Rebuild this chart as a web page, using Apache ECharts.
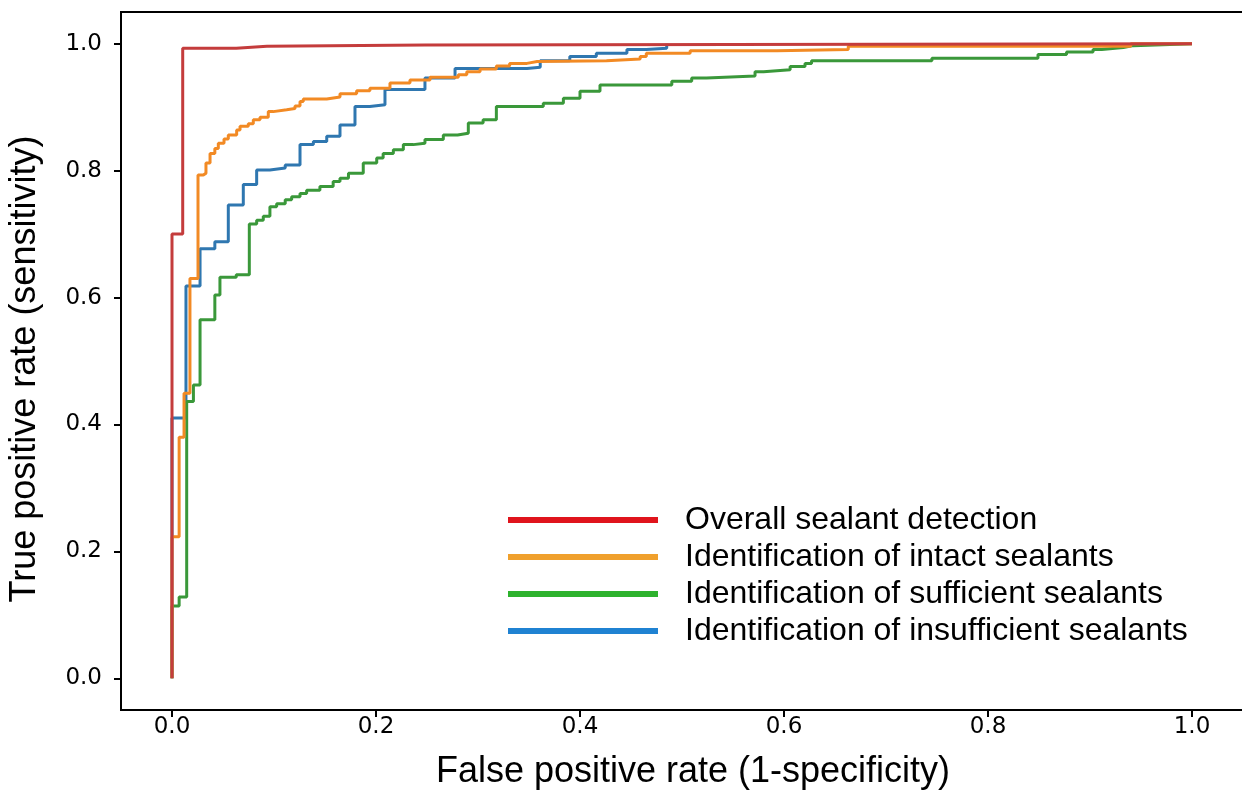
<!DOCTYPE html>
<html>
<head>
<meta charset="utf-8">
<script src="https://cdn.jsdelivr.net/npm/echarts@6/dist/echarts.min.js"></script>
<style>html,body{margin:0;padding:0;background:#fff;overflow:hidden}#c{width:1242px;height:801px}</style>
</head>
<body>
<div id="c"></div>
<script>
// ---- data (fpr, tpr) corner points, step changes at each x ----
const seriesNames = [
  'Overall sealant detection',
  'Identification of intact sealants',
  'Identification of sufficient sealants',
  'Identification of insufficient sealants'
];
const overallRoc = [[0,0],[0,0.70],[0.0105,0.993],[0.063,0.996],[0.093,0.998],[0.248,1.0],[1.0,1.0]];
const intactRoc = [[0,0],[0,0.223],[0.007,0.38],[0.0118,0.449],[0.0176,0.63],[0.0255,0.793],[0.0307,0.796],[0.0333,0.812],[0.0373,0.827],[0.042,0.835],[0.0454,0.843],[0.051,0.85],[0.0552,0.856],[0.0634,0.864],[0.0667,0.87],[0.0748,0.874],[0.0797,0.88],[0.0863,0.884],[0.0944,0.893],[0.0993,0.896],[0.1124,0.898],[0.1206,0.902],[0.1255,0.909],[0.1287,0.913],[0.1517,0.916],[0.1647,0.921],[0.181,0.926],[0.194,0.93],[0.2137,0.938],[0.2333,0.943],[0.253,0.947],[0.2807,0.951],[0.289,0.956],[0.302,0.96],[0.318,0.965],[0.331,0.969],[0.348,0.972],[0.358,0.973],[0.426,0.976],[0.459,0.98],[0.465,0.985],[0.508,0.989],[0.593,0.991],[0.663,0.996],[0.94,1.0],[1.0,1.0]];
const sufficientRoc = [[0,0],[0,0.114],[0.007,0.128],[0.0144,0.436],[0.021,0.462],[0.0275,0.565],[0.042,0.604],[0.047,0.632],[0.063,0.636],[0.0758,0.716],[0.083,0.722],[0.0895,0.728],[0.096,0.743],[0.1026,0.748],[0.111,0.754],[0.1173,0.759],[0.1255,0.764],[0.132,0.769],[0.145,0.775],[0.158,0.783],[0.1647,0.788],[0.173,0.796],[0.1875,0.812],[0.2007,0.82],[0.207,0.827],[0.217,0.833],[0.2268,0.841],[0.2366,0.843],[0.248,0.849],[0.266,0.856],[0.28,0.859],[0.2905,0.875],[0.305,0.88],[0.318,0.901],[0.364,0.906],[0.3837,0.914],[0.40,0.925],[0.4196,0.935],[0.49,0.941],[0.5095,0.946],[0.524,0.949],[0.5716,0.956],[0.58,0.959],[0.606,0.964],[0.6206,0.969],[0.627,0.973],[0.745,0.977],[0.849,0.983],[0.877,0.987],[0.903,0.991],[0.9115,0.994],[0.9327,0.997],[0.9425,1.0],[1.0,1.0]];
const insufficientRoc = [[0,0],[0,0.41],[0.0137,0.618],[0.0275,0.677],[0.042,0.688],[0.0552,0.746],[0.0699,0.778],[0.083,0.801],[0.096,0.804],[0.111,0.809],[0.1255,0.841],[0.1386,0.846],[0.1517,0.854],[0.1647,0.872],[0.1794,0.901],[0.194,0.904],[0.2088,0.928],[0.248,0.946],[0.2775,0.961],[0.348,0.963],[0.361,0.973],[0.39,0.98],[0.416,0.985],[0.446,0.991],[0.465,0.993],[0.485,1.0]];
const tickValues = [0, 0.2, 0.4, 0.6, 0.8, 1.0];
const xTitle = 'False positive rate (1-specificity)';
const yTitle = 'True positive rate (sensitivity)';

const curveColors = ['#c43c3c', '#f28a24', '#3a983a', '#2f77b0'];
const legendColors = ['#e0141c', '#f0a02c', '#2db22d', '#1f82d2'];
const rocData = [overallRoc, intactRoc, sufficientRoc, insufficientRoc];
const drawOrder = [3, 2, 1, 0];
const zOrder = [6, 5, 4, 3];

const tickFont = {fontFamily: 'DejaVu Sans', fontSize: 23, color: '#000'};
const axisCommon = {
  type: 'value', min: -0.05, max: 1.05,
  axisLine: {show: true, onZero: false, lineStyle: {color: '#000', width: 2}},
  axisTick: {show: true, customValues: tickValues, length: 7, lineStyle: {color: '#000', width: 2}},
  splitLine: {show: false},
  nameLocation: 'middle'
};

const chart = echarts.init(document.getElementById('c'), null, {renderer: 'canvas'});
chart.setOption({
  animation: false,
  backgroundColor: '#fff',
  grid: {left: 121, top: 12, width: 1122, height: 698, show: true, borderColor: '#000', borderWidth: 2,
         containLabel: false, outerBoundsMode: 'none'},
  xAxis: Object.assign({}, axisCommon, {
    axisLabel: Object.assign({customValues: tickValues, margin: 6, formatter: v => v.toFixed(1)}, tickFont),
    name: xTitle, nameGap: 44,
    nameTextStyle: {fontFamily: 'Liberation Sans', fontSize: 36, color: '#000', padding: [0, 0, 0, 22]}
  }),
  yAxis: Object.assign({}, axisCommon, {
    axisLabel: Object.assign({customValues: tickValues, margin: 19, formatter: v => v.toFixed(1)}, tickFont),
    name: yTitle, nameGap: 78,
    nameTextStyle: {fontFamily: 'Liberation Sans', fontSize: 36, color: '#000', padding: [0, 16, 0, 0]}
  }),
  legend: {
    orient: 'vertical', left: 508, top: 504, padding: 0,
    icon: 'rect', itemWidth: 150, itemHeight: 6, itemGap: 5,
    textStyle: {fontFamily: 'Liberation Sans', fontSize: 32, color: '#000', padding: [0, 0, 0, 22]},
    data: seriesNames.map((n, i) => ({name: n, itemStyle: {color: legendColors[i]}}))
  },
  series: drawOrder.map(i => ({
    name: seriesNames[i],
    type: 'line',
    step: 'end',
    showSymbol: false,
    symbol: 'none',
    silent: true,
    z: zOrder[i],
    color: curveColors[i],
    lineStyle: {color: curveColors[i], width: 3},
    data: rocData[i]
  }))
});
</script>
</body>
</html>
